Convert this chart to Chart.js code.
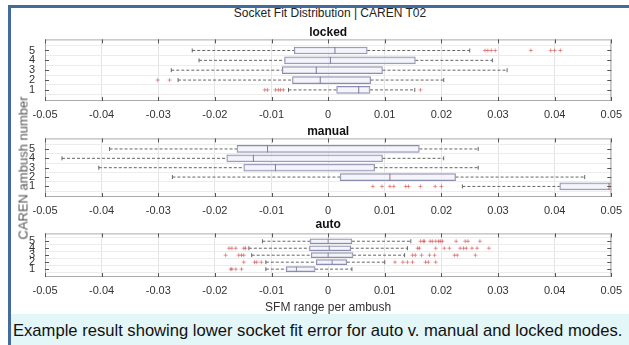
<!DOCTYPE html>
<html>
<head>
<meta charset="utf-8">
<title>Socket Fit Distribution | CAREN T02</title>
<script src="https://cdn.jsdelivr.net/npm/chart.js@4.4.1/dist/chart.umd.min.js"></script>
<style>
  html, body { margin: 0; padding: 0; background: #fff; }
  body { width: 629px; height: 345px; position: relative; overflow: hidden; font-family: "Liberation Sans", Arial, sans-serif; }
  #frame { position: absolute; left: 8px; top: 5px; right: 0; bottom: 0; border-left: 3px solid #456a9e; border-top: 3px solid #456a9e; }
  canvas { position: absolute; left: 0; }
  #figTitle { position: absolute; left: 45px; width: 570px; top: 6px; text-align: center; font-size: 12px; color: #222; }
  #yLabel { position: absolute; left: 23px; top: 168px; transform: translate(-50%, -50%) rotate(-90deg); font-size: 13px; font-weight: normal; white-space: nowrap; color: #555; }
  #caption { position: absolute; left: 11px; right: 0; top: 314px; bottom: 0; background: #e3f6f8; font-size: 16.6px; line-height: 34px; padding-left: 2px; color: #111; white-space: nowrap; }
</style>
</head>
<body>
<div id="frame"></div>
<div id="figTitle">Socket Fit Distribution | CAREN T02</div>
<canvas id="p1" width="629" height="104" style="top:20px"></canvas>
<canvas id="p2" width="629" height="100" style="top:120px"></canvas>
<canvas id="p3" width="629" height="102" style="top:215px"></canvas>
<div id="yLabel">CAREN ambush number</div>
<div id="caption">Example result showing lower socket fit error for auto v. manual and locked modes.</div>

<script>
const rows = [1, 2, 3, 4, 5];
const xTicks = [-0.05, -0.04, -0.03, -0.02, -0.01, 0, 0.01, 0.02, 0.03, 0.04, 0.05];

// locked, ambush 1..5
const lockedLow  = [-0.0070, -0.0265, -0.0277, -0.0228, -0.0240];
const lockedQ1   = [ 0.0015, -0.0063, -0.0081, -0.0077, -0.0060];
const lockedMed  = [ 0.0054, -0.0014, -0.0021,  0.0004,  0.0012];
const lockedQ3   = [ 0.0074,  0.0075,  0.0096,  0.0154,  0.0069];
const lockedHigh = [ 0.0153,  0.0204,  0.0316,  0.0290,  0.0250];
const lockedOut  = [
  [-0.0112, -0.0107, -0.0093, -0.0088, -0.0084, -0.0079, 0.0163],
  [-0.0301, -0.0280],
  [],
  [],
  [0.0277, 0.0282, 0.0288, 0.0295, 0.0358, 0.0393, 0.0400, 0.0410]
];

// manual
const manualLow  = [ 0.0237, -0.0275, -0.0405, -0.0470, -0.0386];
const manualQ1   = [ 0.0409,  0.0021, -0.0149, -0.0179, -0.0161];
const manualMed  = [ 0.0496,  0.0109, -0.0093, -0.0132, -0.0107];
const manualQ3   = [ 0.0550,  0.0225,  0.0082,  0.0096,  0.0161];
const manualHigh = [ 0.0600,  0.0453,  0.0265,  0.0204,  0.0265];
const manualOut  = [
  [0.0079, 0.0095, 0.0109, 0.0116, 0.0137, 0.0142, 0.0163, 0.0189, 0.0200],
  [],
  [],
  [],
  []
];

// auto
const autoLow  = [-0.0110, -0.0110, -0.0135, -0.0140, -0.0116];
const autoQ1   = [-0.0074, -0.0021, -0.0030, -0.0033, -0.0032];
const autoMed  = [-0.0056,  0.0007,  0.0000,  0.0002,  0.0000];
const autoQ3   = [-0.0023,  0.0033,  0.0044,  0.0040,  0.0042];
const autoHigh = [ 0.0042,  0.0100,  0.0135,  0.0140,  0.0146];
const autoOut  = [
  [-0.0172, -0.0170, -0.0163, -0.0153],
  [-0.0149, -0.0130, -0.0126, -0.0118, 0.0118, 0.0132, 0.0140, 0.0149, 0.0172, 0.0177, 0.0190],
  [-0.0181, -0.0158, -0.0153, -0.0149, 0.0149, 0.0154, 0.0165, 0.0179, 0.0188, 0.0223, 0.0228, 0.0260],
  [-0.0175, -0.0170, -0.0163, -0.0149, -0.0146, 0.0158, 0.0161, 0.0190, 0.0205, 0.0214, 0.0233, 0.0239, 0.0244, 0.0254, 0.0263, 0.0284],
  [0.0163, 0.0168, 0.0170, 0.0180, 0.0184, 0.0190, 0.0195, 0.0198, 0.0202, 0.0226, 0.0242, 0.0247, 0.0268]
];

const FONT = '"Liberation Sans", Arial, sans-serif';

// matlab style box round the axes, ticks pointing in
const axesBox = {
  id: 'axesBox',
  afterDatasetsDraw(chart) {
    const { ctx, chartArea: a, scales: { x, y } } = chart;
    ctx.save();
    ctx.lineWidth = 1;
    ctx.strokeStyle = '#ababab';
    ctx.strokeRect(a.left + 0.5, a.top + 0.5, a.width - 1, a.height - 1);
    ctx.strokeStyle = '#555';
    ctx.beginPath();
    x.ticks.forEach(t => {
      const px = Math.round(x.getPixelForValue(t.value)) + 0.5;
      ctx.moveTo(px, a.top); ctx.lineTo(px, a.top + 4);
      ctx.moveTo(px, a.bottom); ctx.lineTo(px, a.bottom - 4);
    });
    y.ticks.forEach(t => {
      const py = Math.round(y.getPixelForValue(t.value)) + 0.5;
      ctx.moveTo(a.left, py); ctx.lineTo(a.left + 4, py);
      ctx.moveTo(a.right, py); ctx.lineTo(a.right - 4, py);
    });
    ctx.stroke();
    ctx.restore();
  }
};

function boxPanel(id, title, low, q1, med, q3, high, outliers, cfg) {
  const boxes = rows.map((r, i) => ({ y: r, x: [q1[i], q3[i]] }));
  const whiskers = [], caps = [], outs = [];
  rows.forEach((r, i) => {
    whiskers.push({ x: low[i], y: r }, { x: q1[i], y: r }, { x: null, y: r });
    whiskers.push({ x: q3[i], y: r }, { x: high[i], y: r }, { x: null, y: r });
    caps.push({ x: low[i], y: r }, { x: high[i], y: r });
    outliers[i].forEach(v => outs.push({ x: v, y: r }));
  });
  const medians = rows.map((r, i) => ({ x: med[i], y: r }));

  new Chart(document.getElementById(id), {
    type: 'bar',
    data: {
      datasets: [
        { type: 'scatter', data: whiskers, showLine: true, spanGaps: false, borderColor: '#666',
          borderWidth: 1, borderDash: [3, 2], pointRadius: 0, order: 4 },
        { type: 'bar', data: boxes, backgroundColor: 'rgba(240,240,250,0.7)', borderColor: '#8c8cae',
          borderWidth: 1, borderSkipped: false, barThickness: cfg.boxH, order: 3 },
        { type: 'scatter', data: medians, pointStyle: 'line', rotation: 90, pointRadius: cfg.boxH / 2,
          borderColor: cfg.medColor, borderWidth: 1, order: 2 },
        { type: 'scatter', data: caps, pointStyle: 'line', rotation: 90, pointRadius: 2,
          borderColor: '#666', borderWidth: 1, order: 2 },
        { type: 'scatter', data: outs, pointStyle: 'cross', pointRadius: 2,
          borderColor: 'rgba(205,70,70,0.55)', borderWidth: 1, order: 1 }
      ]
    },
    options: {
      indexAxis: 'y',
      responsive: false,
      animation: false,
      events: [],
      layout: { padding: { left: 0, right: 14, top: 0, bottom: 0 } },
      plugins: {
        legend: { display: false },
        tooltip: { enabled: false },
        title: { display: true, text: title, fullSize: false, color: '#111',
          font: { family: FONT, size: 12, weight: 'bold' }, padding: cfg.titlePad }
      },
      scales: {
        x: {
          type: 'linear', min: -0.05, max: 0.05,
          afterBuildTicks: s => { s.ticks = xTicks.map(v => ({ value: v })); },
          afterFit: s => { s.height = cfg.axisH; },
          grid: { color: '#e4e4e4', drawTicks: false },
          border: { display: false },
          ticks: { padding: 7, color: '#333', font: { family: FONT, size: 11 }, maxRotation: 0, autoSkip: false,
            callback: v => String(+v.toFixed(2)) },
          title: cfg.xTitle
            ? { display: true, text: cfg.xTitle, color: '#333', font: { family: FONT, size: 12 }, padding: { top: 2, bottom: 2 } }
            : { display: false }
        },
        y: {
          type: 'linear', min: 0.5, max: 5.5,
          afterBuildTicks: s => { s.ticks = rows.map(v => ({ value: v })); },
          afterFit: s => { s.width = 45; },
          grid: { color: '#ececec', drawTicks: false },
          border: { display: false },
          ticks: { padding: 10, color: '#333', font: { family: FONT, size: 11 }, autoSkip: false }
        }
      }
    },
    plugins: [axesBox]
  });
}

boxPanel('p1', 'locked', lockedLow, lockedQ1, lockedMed, lockedQ3, lockedHigh, lockedOut,
  { boxH: 7, medColor: '#7a7aa0', titlePad: { top: 5, bottom: 0 }, axisH: 23 });
boxPanel('p2', 'manual', manualLow, manualQ1, manualMed, manualQ3, manualHigh, manualOut,
  { boxH: 7, medColor: '#c0607a', titlePad: { top: 4, bottom: 0 }, axisH: 23 });
boxPanel('p3', 'auto', autoLow, autoQ1, autoMed, autoQ3, autoHigh, autoOut,
  { boxH: 5, medColor: '#8a8aa5', titlePad: { top: 2, bottom: 2 }, axisH: 40, xTitle: 'SFM range per ambush' });
</script>
</body>
</html>
